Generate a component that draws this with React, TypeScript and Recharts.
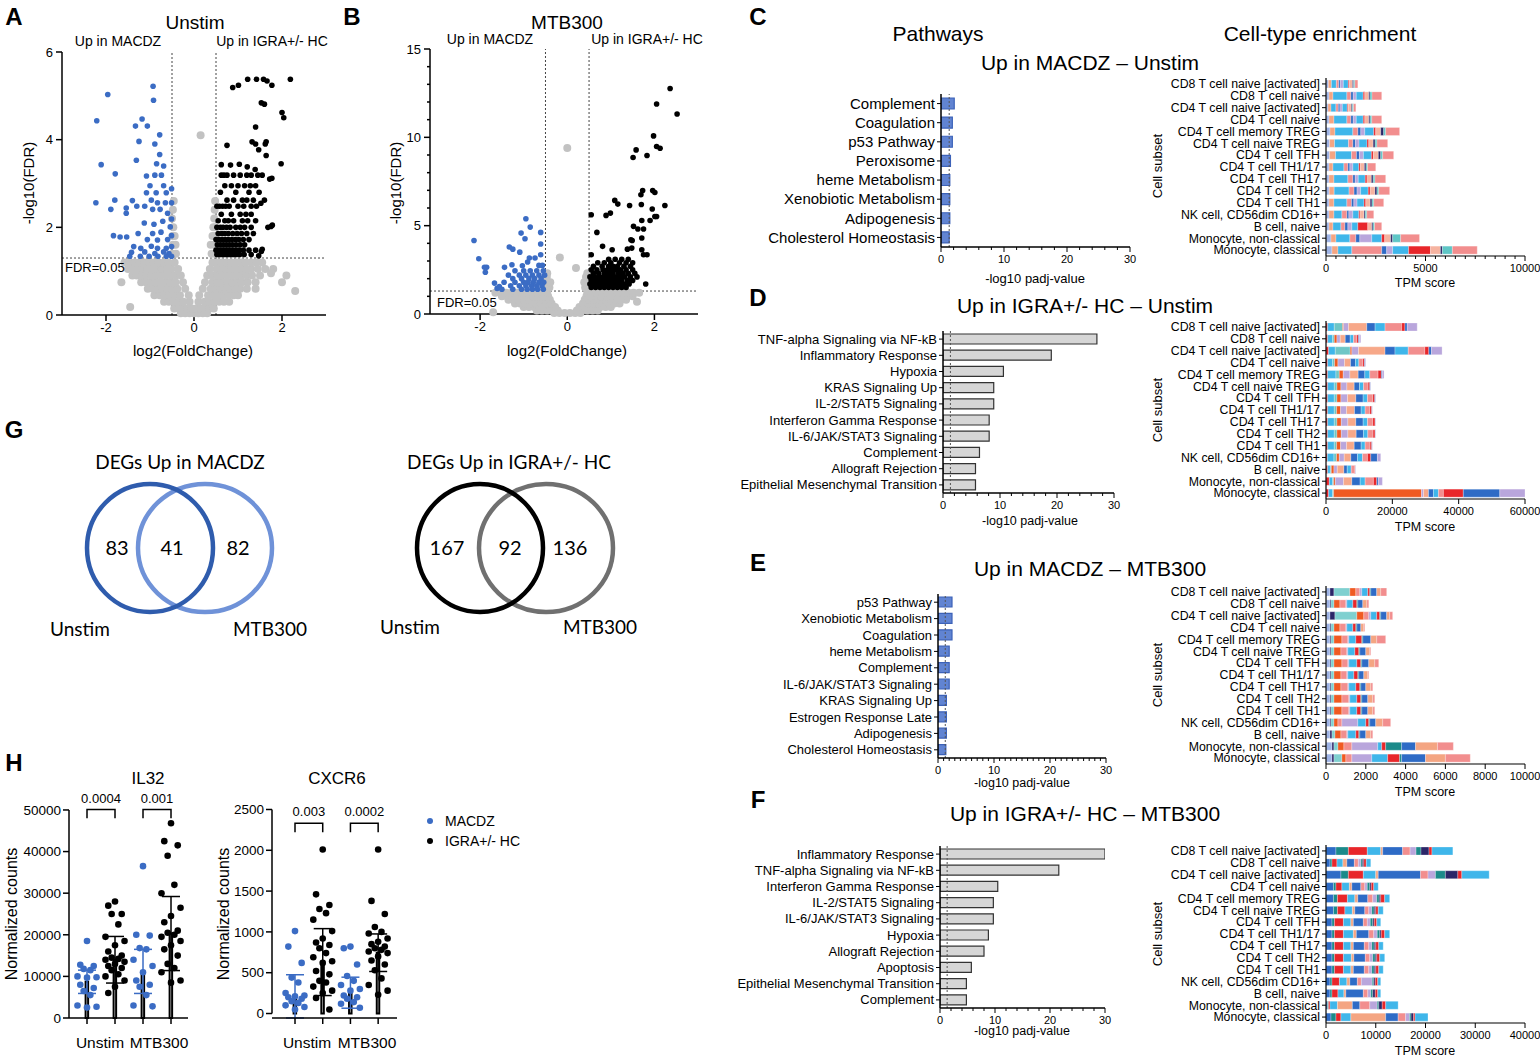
import React from "react";
import {
  ScatterChart,
  Scatter,
  XAxis,
  YAxis,
  ReferenceLine,
  BarChart,
  Bar,
  ComposedChart,
  Line,
  ErrorBar,
} from "recharts";

const FONT = '"Liberation Sans", Arial, Helvetica, sans-serif';
const BLUE = "#3b6cc4";
const GRAY = "#c2c2c2";

// ---------- Volcano A (Unstim) ----------
const grayRowsA: [number, number[]][] = [
  [0.04, [-0.3, -0.2, -0.1, 0, 0.1, 0.2, 0.3]],
  [0.15, [-0.45, -0.35, -0.25, -0.15, -0.05, 0.05, 0.15, 0.25, 0.35, 0.45]],
  [0.3, [-0.68, -0.57, -0.46, -0.35, -0.24, -0.1, 0.1, 0.24, 0.35, 0.46, 0.57, 0.68, 0.8]],
  [0.45, [-0.9, -0.78, -0.66, -0.55, -0.44, -0.32, -0.12, 0.12, 0.32, 0.44, 0.55, 0.66, 0.78, 0.9, 1.0]],
  [0.6, [-1.05, -0.94, -0.83, -0.72, -0.61, -0.5, -0.38, -0.2, 0.2, 0.38, 0.5, 0.61, 0.72, 0.83, 0.94, 1.05, 1.2, 1.4]],
  [0.75, [-1.2, -1.09, -0.98, -0.87, -0.76, -0.65, -0.54, -0.42, -0.25, 0.25, 0.42, 0.54, 0.65, 0.76, 0.87, 0.98, 1.09, 1.22, 1.4, 2.0]],
  [0.9, [-1.4, -1.3, -1.19, -1.08, -0.97, -0.86, -0.75, -0.64, -0.53, -0.42, -0.3, 0.3, 0.42, 0.53, 0.64, 0.75, 0.86, 0.97, 1.08, 1.2, 1.32, 1.5, 2.1]],
  [1.05, [-1.5, -1.39, -1.28, -1.17, -1.06, -0.95, -0.84, -0.73, -0.62, -0.51, -0.36, 0.36, 0.51, 0.62, 0.73, 0.84, 0.95, 1.06, 1.17, 1.3, 1.45, 1.62, 1.8]],
  [1.2, [-1.58, -1.46, -1.35, -1.24, -1.13, -1.02, -0.91, -0.8, -0.69, -0.58, -0.44, 0.42, 0.52, 0.63, 0.74, 0.85, 0.96, 1.07, 1.18, 1.3, 1.42, 1.55]],
  [1.4, [-0.49, -0.41, 0.4, 0.48]],
  [1.6, [-0.48, -0.42, 0.38, 0.47]],
  [1.8, [-0.49, -0.44, 0.42, 0.48]],
  [2.0, [-0.47, 0.44, 0.49]],
  [2.2, [-0.5, 0.46]],
  [2.4, [-0.48, 0.47]],
  [2.6, [-0.46, 0.48]],
];
const grayExtraA: [number, number][] = [[0.15, 4.1], [-1.45, 0.18], [-1.65, 0.75], [2.3, 0.55], [1.75, 0.95]];
const blueA: [number, number][] = [
  [-1.96, 5.03], [-0.93, 5.22], [-0.92, 4.9], [-2.21, 4.43], [-1.18, 4.47], [-1.33, 4.31], [-1.06, 4.31],
  [-0.78, 4.11], [-1.25, 3.96], [-0.89, 3.9], [-0.78, 3.66], [-2.11, 3.43], [-1.31, 3.53], [-0.85, 3.45],
  [-0.69, 3.4], [-1.79, 3.22], [-1.08, 3.17], [-0.89, 3.19], [-0.74, 3.19], [-1.0, 2.95], [-0.69, 2.95],
  [-0.51, 2.88], [-1.08, 2.79], [-0.86, 2.79], [-0.63, 2.79], [-2.23, 2.56], [-1.8, 2.62], [-1.89, 2.41],
  [-1.54, 2.44], [-1.54, 2.32], [-1.4, 2.61], [-1.3, 2.48], [-1.12, 2.48], [-0.97, 2.62], [-0.83, 2.56],
  [-0.65, 2.56], [-0.51, 2.56], [-0.94, 2.41], [-0.77, 2.41], [-0.6, 2.32], [-0.51, 2.19], [-1.13, 2.1],
  [-0.91, 2.07], [-0.71, 2.14], [-0.54, 2.01], [-1.83, 1.81], [-1.68, 1.78], [-1.53, 1.78], [-1.27, 1.86],
  [-0.94, 1.86], [-0.75, 1.89], [-1.06, 1.72], [-0.83, 1.71], [-0.6, 1.72], [-0.51, 1.81], [-1.37, 1.56],
  [-1.21, 1.52], [-0.97, 1.57], [-0.83, 1.52], [-0.63, 1.52], [-0.51, 1.56], [-1.42, 1.43], [-1.12, 1.44],
  [-0.89, 1.4], [-0.69, 1.44], [-0.57, 1.4], [-1.46, 1.34], [-1.22, 1.34], [-1.02, 1.34], [-0.82, 1.34],
  [-0.63, 1.34], [-0.51, 1.34],
];
const blackA: [number, number][] = [
  [1.42, 5.38], [1.58, 5.38], [1.66, 5.34], [1.22, 5.38], [2.19, 5.38], [0.88, 5.19], [1.01, 5.24], [1.77, 5.24],
  [1.53, 4.84], [1.6, 4.81], [2.0, 4.62], [2.04, 4.5], [1.4, 4.29], [0.75, 3.87], [1.32, 3.95], [1.4, 3.9],
  [1.62, 3.9], [1.64, 3.95], [1.47, 3.77], [1.64, 3.64], [0.62, 3.43], [0.83, 3.42], [1.03, 3.44], [1.98, 3.45],
  [1.21, 3.38], [1.39, 3.32], [1.77, 3.12], [1.72, 3.1], [1.52, 2.55], [1.78, 2.05], [1.75, 2.02], [1.55, 1.5],
  [1.53, 1.45], [1.47, 1.35],
];
const blackRowsA: [number, number[]][] = [
  [3.19, [0.62, 0.68, 0.75, 0.9, 1.05, 1.2, 1.3, 1.45, 1.55]],
  [2.95, [0.7, 0.85, 1.0, 1.15, 1.28, 1.4]],
  [2.8, [0.6, 0.95, 1.25, 1.48]],
  [2.62, [0.75, 0.9, 1.1, 1.2, 1.35, 1.6]],
  [2.48, [0.52, 0.58, 0.65, 0.72, 0.8, 1.0, 1.13, 1.3, 1.42]],
  [2.3, [0.62, 0.85, 1.05, 1.18, 1.3]],
  [2.15, [0.55, 0.7, 0.78, 0.9, 1.1, 1.22, 1.4]],
  [2.0, [0.52, 0.6, 0.66, 0.74, 0.82, 0.95, 1.05, 1.15, 1.3, 1.68]],
  [1.86, [0.55, 0.63, 0.7, 0.78, 0.88, 0.98, 1.08, 1.2, 1.35]],
  [1.72, [0.5, 0.57, 0.64, 0.71, 0.78, 0.86, 0.94, 1.02, 1.12, 1.25]],
  [1.6, [0.53, 0.6, 0.67, 0.74, 0.81, 0.88, 0.96, 1.05, 1.15]],
  [1.48, [0.5, 0.56, 0.62, 0.68, 0.74, 0.8, 0.87, 0.94, 1.02, 1.12, 1.25, 1.4]],
  [1.38, [0.52, 0.58, 0.64, 0.7, 0.76, 0.82, 0.89, 0.96, 1.04, 1.14, 1.3]],
];

// ---------- Volcano B (MTB300) ----------
const grayRowsB: [number, number[]][] = [
  [0.05, [-0.3, -0.18, -0.06, 0.06, 0.18, 0.3]],
  [0.2, [-0.7, -0.58, -0.46, -0.34, -0.22, 0.22, 0.34, 0.46, 0.58, 0.7]],
  [0.4, [-1.0, -0.88, -0.76, -0.64, -0.52, -0.4, -0.28, 0.28, 0.4, 0.52, 0.64, 0.76, 0.88, 1.0]],
  [0.6, [-1.2, -1.08, -0.96, -0.84, -0.72, -0.6, -0.48, -0.36, 0.36, 0.48, 0.6, 0.72, 0.84, 0.96, 1.08, 1.2]],
  [0.8, [-1.35, -1.23, -1.11, -0.99, -0.87, -0.75, -0.63, -0.51, -0.4, 0.4, 0.51, 0.63, 0.75, 0.87, 0.99, 1.11, 1.23, 1.35]],
  [1.0, [-1.5, -1.38, -1.26, -1.14, -1.02, -0.9, -0.78, -0.66, -0.54, -0.44, 0.44, 0.54, 0.66, 0.78, 0.9, 1.02, 1.14, 1.26, 1.38, 1.5]],
  [1.2, [-1.65, -1.52, -1.4, -1.28, -1.16, -1.04, -0.92, -0.8, -0.68, -0.56, -0.46, 0.46, 0.56, 0.68, 0.8, 0.92, 1.04, 1.16, 1.28, 1.4, 1.52, 1.65]],
  [1.5, [-0.49, -0.41, 0.41, 0.49]],
  [1.8, [-0.48, -0.39, 0.39, 0.48]],
  [2.1, [-0.47, 0.43]],
  [2.3, [-0.46, 0.46]],
];
const grayExtraB: [number, number][] = [[0, 9.4], [-0.17, 3.2], [0.2, 2.6], [1.6, 0.7], [-1.7, 0.1]];
const blueB: [number, number][] = [
  [-2.14, 4.16], [-2.03, 3.13], [-1.9, 2.64], [-1.85, 2.64], [-1.88, 2.36], [-1.67, 1.75], [-1.61, 1.45],
  [-1.56, 1.56], [-0.95, 5.39], [-0.85, 4.92], [-1.06, 4.58], [-0.61, 4.62], [-0.97, 4.26], [-0.61, 3.96],
  [-1.33, 3.79], [-1.25, 3.67], [-1.09, 3.5], [-0.87, 3.17], [-0.74, 3.17], [-0.61, 3.35], [-1.44, 2.64],
  [-1.27, 2.79], [-1.03, 2.73], [-0.91, 2.94], [-0.65, 2.75], [-0.57, 2.75],
];
const blueRowsB: [number, number[]][] = [
  [2.45, [-1.2, -1.0, -0.85, -0.7, -0.55]],
  [2.2, [-1.35, -1.1, -0.95, -0.8, -0.65, -0.52]],
  [2.0, [-1.25, -1.05, -0.88, -0.75, -0.6]],
  [1.8, [-1.45, -1.2, -1.0, -0.9, -0.78, -0.65, -0.54]],
  [1.6, [-1.3, -1.1, -0.95, -0.82, -0.7, -0.58]],
  [1.4, [-1.5, -1.25, -1.05, -0.92, -0.8, -0.68, -0.55]],
];
const blackB: [number, number][] = [
  [2.36, 12.76], [2.05, 11.89], [2.52, 11.32], [1.98, 10.08], [2.13, 9.38], [2.05, 9.48], [1.58, 9.29],
  [1.51, 8.86], [1.83, 8.97], [1.96, 6.99], [1.73, 6.99], [2.01, 6.88], [1.69, 6.75], [1.09, 6.43],
  [1.16, 6.22], [1.43, 6.14], [1.7, 6.2], [2.24, 6.14], [1.95, 5.94], [0.55, 5.62], [0.89, 5.58],
  [0.99, 5.71], [2.01, 5.52], [2.05, 5.52], [1.9, 5.29], [1.71, 5.29], [1.52, 4.96], [1.62, 4.81],
  [1.75, 4.81], [0.68, 4.62], [1.49, 4.16], [1.46, 4.2], [1.71, 4.3], [0.81, 3.83], [1.38, 3.67],
  [1.03, 3.64], [1.71, 3.64], [1.48, 3.73], [1.75, 3.35], [1.83, 3.35], [0.55, 3.35], [1.8, 1.7],
];
const blackRowsB: [number, number[]][] = [
  [3.1, [0.95, 1.1, 1.25, 1.4]],
  [2.9, [0.7, 0.85, 1.0, 1.2, 1.35, 1.5]],
  [2.7, [0.6, 0.8, 0.95, 1.05, 1.15, 1.3, 1.45]],
  [2.5, [0.55, 0.68, 0.82, 0.92, 1.02, 1.12, 1.22, 1.35, 1.5]],
  [2.3, [0.6, 0.72, 0.85, 0.95, 1.05, 1.18, 1.28, 1.4, 1.55]],
  [2.1, [0.52, 0.62, 0.72, 0.82, 0.92, 1.02, 1.12, 1.22, 1.32, 1.45, 1.6]],
  [1.9, [0.55, 0.65, 0.75, 0.85, 0.95, 1.05, 1.15, 1.25, 1.38, 1.5]],
  [1.7, [0.52, 0.62, 0.72, 0.82, 0.92, 1.02, 1.12, 1.22, 1.32, 1.42]],
  [1.5, [0.55, 0.65, 0.75, 0.85, 0.95, 1.05, 1.15, 1.25, 1.35]],
];
const volcXTicks = [-2, 0, 2];
const volcAYTicks = [0, 2, 4, 6];
const volcBYTicks = [0, 1, 2, 3, 4, 5, 6, 7, 8, 9, 10, 11, 12, 13, 14, 15];

// ---------- Pathways ----------
const pathC = ["Complement", "Coagulation", "p53 Pathway", "Peroxisome", "heme Metabolism", "Xenobiotic Metabolism", "Adipogenesis", "Cholesterol Homeostasis"];
const valsC = [2.1, 1.8, 1.8, 1.5, 1.4, 1.4, 1.4, 1.3];
const pathD = ["TNF-alpha Signaling via NF-kB", "Inflammatory Response", "Hypoxia", "KRAS Signaling Up", "IL-2/STAT5 Signaling", "Interferon Gamma Response", "IL-6/JAK/STAT3 Signaling", "Complement", "Allograft Rejection", "Epithelial Mesenchymal Transition"];
const valsD = [27, 19, 10.6, 8.9, 8.9, 8.1, 8.1, 6.4, 5.7, 5.7];
const pathE = ["p53 Pathway", "Xenobiotic Metabolism", "Coagulation", "heme Metabolism", "Complement", "IL-6/JAK/STAT3 Signaling", "KRAS Signaling Up", "Estrogen Response Late", "Adipogenesis", "Cholesterol Homeostasis"];
const valsE = [2.5, 2.5, 2.5, 2.0, 2.0, 2.0, 1.5, 1.5, 1.5, 1.4];
const pathF = ["Inflammatory Response", "TNF-alpha Signaling via NF-kB", "Interferon Gamma Response", "IL-2/STAT5 Signaling", "IL-6/JAK/STAT3 Signaling", "Hypoxia", "Allograft Rejection", "Apoptosis", "Epithelial Mesenchymal Transition", "Complement"];
const valsF = [30, 21.6, 10.5, 9.7, 9.7, 8.8, 8.0, 5.7, 4.8, 4.8];
const pathTicks2 = [0, 2, 4, 6, 8, 10, 12, 14, 16, 18, 20, 22, 24, 26, 28, 30];
const pathTicks1 = [0, 1, 2, 3, 4, 5, 6, 7, 8, 9, 10, 11, 12, 13, 14, 15, 16, 17, 18, 19, 20, 21, 22, 23, 24, 25, 26, 27, 28, 29, 30];

// ---------- Cell-type enrichment ----------
const cellTypes = [
  "CD8 T cell naive [activated]", "CD8 T cell naive", "CD4 T cell naive [activated]", "CD4 T cell naive",
  "CD4 T cell memory TREG", "CD4 T cell naive TREG", "CD4 T cell TFH", "CD4 T cell TH1/17", "CD4 T cell TH17",
  "CD4 T cell TH2", "CD4 T cell TH1", "NK cell, CD56dim CD16+", "B cell, naive", "Monocyte, non-classical",
  "Monocyte, classical",
];
const colorsC = ["#9fb4e6", "#f4a582", "#3fb6ea", "#f28e8e", "#2e6bc6", "#b9a6dc", "#3fb6ea", "#e8262a", "#f6b3a0", "#2b2668", "#5fc6c6", "#f28e8e"];
const cellC = [
  [120, 150, 250, 120, 80, 150, 250, 60, 150, 60, 60, 150],
  [150, 200, 700, 200, 120, 150, 350, 80, 200, 60, 100, 490],
  [100, 150, 250, 120, 80, 120, 250, 50, 150, 50, 60, 120],
  [150, 250, 650, 200, 120, 150, 350, 80, 200, 60, 90, 500],
  [200, 250, 900, 250, 150, 200, 450, 100, 250, 150, 100, 700],
  [180, 250, 700, 220, 130, 180, 400, 90, 220, 100, 90, 540],
  [180, 300, 800, 250, 150, 200, 400, 100, 250, 120, 100, 550],
  [150, 200, 550, 200, 100, 150, 300, 80, 200, 80, 80, 410],
  [150, 250, 700, 250, 120, 150, 350, 90, 220, 90, 90, 540],
  [160, 250, 750, 250, 150, 180, 380, 100, 240, 100, 90, 550],
  [150, 250, 650, 230, 120, 160, 350, 90, 220, 90, 90, 500],
  [150, 250, 400, 250, 100, 200, 300, 60, 200, 60, 80, 350],
  [150, 200, 400, 200, 150, 200, 300, 500, 200, 60, 80, 360],
  [250, 250, 700, 300, 200, 600, 500, 150, 300, 100, 400, 950],
  [300, 300, 700, 1500, 250, 300, 800, 1100, 500, 100, 500, 1250],
];
const colorsD = ["#e8262a", "#3fb6ea", "#6ec6c6", "#f05a22", "#b9a6dc", "#f7a889", "#2e6bc6", "#3fb6ea", "#f28e8e", "#e8262a", "#2e6bc6", "#b9a6dc"];
const cellD = [
  [500, 2000, 2500, 300, 1500, 5500, 2500, 3000, 5000, 1000, 700, 3000],
  [500, 1500, 500, 800, 1000, 1500, 1500, 1000, 1000, 500, 300, 400],
  [800, 2000, 4500, 500, 2000, 8000, 3000, 4000, 5000, 1200, 800, 3200],
  [500, 1500, 600, 1000, 2000, 1800, 1500, 1000, 1200, 500, 200, 200],
  [500, 2500, 1000, 1200, 2000, 2500, 2000, 1500, 2500, 1000, 300, 500],
  [500, 2000, 800, 1200, 1800, 2200, 1600, 1200, 1400, 500, 200, 100],
  [500, 2000, 800, 1200, 2000, 2500, 2200, 1300, 1600, 600, 200, 100],
  [500, 2000, 700, 1200, 1800, 2400, 2000, 1200, 1400, 600, 100, 100],
  [500, 2000, 800, 1300, 2000, 2400, 2200, 1300, 1600, 700, 100, 100],
  [500, 2000, 800, 1300, 2000, 2500, 2200, 1300, 1600, 600, 100, 100],
  [500, 2000, 700, 1200, 1800, 2300, 2100, 1200, 1500, 500, 100, 100],
  [400, 2000, 800, 800, 1500, 2000, 2000, 1500, 1500, 1000, 2000, 1000],
  [500, 800, 300, 800, 1000, 2000, 1000, 1200, 1000, 200, 100, 100],
  [1000, 1000, 300, 500, 2500, 2500, 2500, 1500, 2500, 1000, 500, 1200],
  [800, 1200, 300, 26500, 600, 1500, 1500, 1500, 1500, 6000, 11000, 7600],
];
const colorsE = ["#9fb4e6", "#2b2668", "#7fd0d0", "#f05a22", "#f28e8e", "#b9a6dc", "#3fb6ea", "#e8262a", "#1b8a8a", "#2e6bc6", "#f4a582", "#f28e8e"];
const cellE = [
  [200, 200, 800, 300, 200, 100, 300, 100, 50, 300, 200, 300],
  [200, 50, 150, 300, 300, 50, 300, 200, 50, 250, 200, 100],
  [200, 250, 1100, 350, 250, 100, 300, 150, 50, 300, 150, 150],
  [200, 50, 150, 300, 300, 50, 300, 150, 50, 200, 150, 50],
  [200, 50, 150, 400, 300, 50, 350, 300, 50, 400, 300, 450],
  [200, 50, 150, 350, 300, 50, 350, 200, 50, 300, 200, 50],
  [200, 50, 150, 400, 300, 50, 400, 200, 50, 350, 300, 200],
  [200, 50, 150, 350, 300, 50, 300, 200, 50, 250, 200, 50],
  [200, 50, 150, 350, 350, 50, 350, 200, 50, 250, 250, 100],
  [200, 50, 150, 400, 350, 50, 350, 200, 50, 300, 250, 100],
  [200, 50, 150, 400, 350, 50, 350, 200, 50, 300, 250, 100],
  [200, 50, 150, 200, 200, 800, 400, 150, 50, 300, 350, 400],
  [200, 100, 150, 300, 300, 50, 400, 150, 50, 300, 250, 100],
  [300, 100, 200, 300, 400, 1300, 200, 200, 800, 700, 1100, 800],
  [300, 100, 400, 200, 300, 1000, 800, 600, 100, 1200, 1000, 1250],
];
const colorsF = ["#2e6bc6", "#1b8a8a", "#e8262a", "#3fb6ea", "#f4a582", "#2e6bc6", "#f28e8e", "#b9a6dc", "#1b8a8a", "#2b2668", "#e8262a", "#3fb6ea"];
const cellF = [
  [2000, 2500, 3800, 2700, 400, 4000, 1500, 1200, 1000, 1600, 600, 4200],
  [800, 400, 1000, 1200, 800, 1500, 800, 500, 300, 300, 500, 900],
  [3000, 1500, 3000, 2500, 500, 8500, 1500, 1500, 2000, 2500, 800, 5500],
  [1500, 500, 1200, 1500, 500, 1800, 800, 500, 500, 300, 500, 900],
  [1500, 800, 2000, 1500, 600, 2000, 1000, 800, 500, 300, 800, 1000],
  [1500, 800, 1500, 1500, 500, 2000, 800, 600, 500, 300, 500, 1000],
  [1200, 500, 1800, 1500, 500, 2000, 800, 600, 500, 300, 500, 800],
  [1200, 500, 1800, 2000, 600, 2500, 1000, 700, 500, 300, 700, 1000],
  [1200, 500, 1800, 1500, 500, 2200, 900, 600, 500, 300, 600, 900],
  [1200, 500, 1800, 1600, 500, 2300, 900, 600, 500, 300, 600, 1000],
  [1200, 500, 1800, 1500, 500, 2200, 900, 600, 500, 300, 600, 900],
  [800, 400, 1500, 1500, 600, 1500, 800, 2200, 300, 300, 500, 600],
  [800, 400, 1200, 1200, 400, 3500, 900, 600, 400, 500, 500, 600],
  [300, 200, 300, 1500, 3000, 1500, 2000, 1500, 300, 700, 700, 2500],
  [1000, 1000, 1000, 2000, 7000, 2500, 1500, 800, 300, 500, 300, 2600],
];
const cellTicksC = [0, 500, 1000, 1500, 2000, 2500, 3000, 3500, 4000, 4500, 5000, 5500, 6000, 6500, 7000, 7500, 8000, 8500, 9000, 9500, 10000];
const cellTicksD = [0, 20000, 40000, 60000];
const cellTicksE = [0, 2000, 4000, 6000, 8000, 10000];
const cellTicksF = [0, 10000, 20000, 30000, 40000];

// ---------- Venn ----------
const vennMacdz = [83, 41, 82];
const vennIgra = [167, 92, 136];

// ---------- H: normalized counts ----------
const hGroups = ["Unstim", "MTB300"];
const il32Means = [8700, 14000, 11200, 20300];
const il32Sd = [2800, 5600, 5300, 8900];
const il32Pts = [
  [18500, 12800, 12500, 11800, 11500, 10000, 9800, 9700, 8000, 7200, 6500, 5500, 3000, 2700, 2500],
  [28000, 27000, 25000, 25000, 22500, 19500, 18500, 17500, 16000, 15000, 14500, 14200, 14000, 13500, 13000, 12500, 12000, 11500, 10500, 10000, 9000, 7500, 6000],
  [36500, 20000, 19800, 16800, 16500, 14000, 12500, 11000, 9000, 8000, 7500, 5500, 3000, 2800],
  [46800, 42500, 41500, 39000, 32000, 30000, 26500, 24500, 23000, 21000, 20500, 20000, 19500, 18500, 17500, 16500, 15000, 13000, 12000, 11000, 9000, 8500],
];
const il32P = ["0.0004", "0.001"];
const il32Ticks = [0, 10000, 20000, 30000, 40000, 50000];
const cxcr6Means = [210, 630, 255, 745];
const cxcr6Sd = [265, 410, 190, 230];
const cxcr6Pts = [
  [1010, 820, 620, 440, 380, 250, 220, 210, 200, 180, 150, 130, 100, 80, 50],
  [2010, 1460, 1330, 1280, 1230, 1150, 1010, 920, 870, 840, 800, 740, 690, 640, 620, 520, 480, 400, 380, 330, 280, 250, 190, 50],
  [820, 800, 600, 460, 400, 350, 300, 280, 220, 200, 180, 140, 120, 70],
  [2010, 1380, 1220, 1060, 1000, 980, 920, 880, 850, 820, 800, 780, 760, 740, 700, 650, 600, 530, 430, 350, 280, 230],
];
const cxcr6P = ["0.003", "0.0002"];
const cxcr6Ticks = [0, 500, 1000, 1500, 2000, 2500];

// ---------- helpers ----------
const pairs = (a: [number, number][]) => a.map(([x, y]) => ({ x, y }));
const rows = (r: [number, number[]][]) => r.flatMap(([y, xs]) => xs.map((x) => ({ x, y })));
const isMul = (v: number, m: number) => Math.abs(v / m - Math.round(v / m)) < 1e-6;

const xTick = (major: number, fs: number) => (p: any) => {
  const v = p.payload.value;
  const mj = isMul(v, major);
  return (
    <g>
      <line x1={p.x} x2={p.x} y1={p.y} y2={p.y + (mj ? 5 : 3)} stroke="#000" strokeWidth={1} />
      {mj && (
        <text x={p.x} y={p.y + 7 + fs * 0.85} textAnchor="middle" fontSize={fs} fill="#000">
          {v}
        </text>
      )}
    </g>
  );
};
const yTick = (major: number, fs: number) => (p: any) => {
  const v = p.payload.value;
  const mj = isMul(v, major);
  return (
    <g>
      <line x1={p.x - (mj ? 6 : 3)} x2={p.x} y1={p.y} y2={p.y} stroke="#000" strokeWidth={1.5} />
      {mj && (
        <text x={p.x - 9} y={p.y} dy="0.35em" textAnchor="end" fontSize={fs} fill="#000">
          {v}
        </text>
      )}
    </g>
  );
};
// category labels without wrapping
const catTick = (fs: number) => (p: any) => (
  <text x={p.x} y={p.y} dy="0.35em" textAnchor="end" fontSize={fs} fill="#000">
    {p.payload.value}
  </text>
);
const dot = (c: string, r: number) => (p: any) => <circle cx={p.cx} cy={p.cy} r={r} fill={c} />;

function Txt({ x, y, s = 14, a = "middle", w = 400, r = 0, f, children }: any) {
  const tx = a === "middle" ? "-50%" : a === "end" ? "-100%" : "0";
  return (
    <div
      style={{
        position: "absolute",
        left: x,
        top: y,
        fontSize: s,
        fontWeight: w,
        fontFamily: f || FONT,
        whiteSpace: "nowrap",
        lineHeight: 1,
        transform: `translate(${tx},-50%) rotate(${r}deg)`,
      }}
    >
      {children}
    </div>
  );
}

function Volcano({ left, top, width, plotH, yAxisW, mTop, mRight, xDomain, yMax, yTicks, yMajor, gray, blue, black }: any) {
  return (
    <div style={{ position: "absolute", left, top }}>
      <ScatterChart width={width} height={mTop + plotH + 30} margin={{ top: mTop, right: mRight, bottom: 0, left: 0 }}>
        <XAxis
          type="number"
          dataKey="x"
          domain={xDomain}
          ticks={volcXTicks}
          interval={0}
          height={30}
          tick={{ fill: "#000", fontSize: 13 }}
          tickSize={6}
          tickLine={{ stroke: "#000", strokeWidth: 1.5 }}
          axisLine={{ stroke: "#000", strokeWidth: 1.5 }}
        />
        <YAxis
          type="number"
          dataKey="y"
          domain={[0, yMax]}
          ticks={yTicks}
          interval={0}
          width={yAxisW}
          tick={yTick(yMajor, 13)}
          tickLine={false}
          tickSize={0}
          tickMargin={0}
          axisLine={{ stroke: "#000", strokeWidth: 1.5 }}
        />
        <Scatter data={gray} shape={dot(GRAY, 4)} isAnimationActive={false} />
        <Scatter data={blue} shape={dot(BLUE, 2.8)} isAnimationActive={false} />
        <Scatter data={black} shape={dot("#000", 2.8)} isAnimationActive={false} />
        <ReferenceLine x={-0.5} stroke="#444" strokeDasharray="2 2" />
        <ReferenceLine x={0.5} stroke="#444" strokeDasharray="2 2" />
        <ReferenceLine y={1.3} stroke="#444" strokeDasharray="2 2" />
      </ScatterChart>
    </div>
  );
}

function PathChart({ left, top, cats, vals, yAxisW, plotW, plotH, fs, fill, stroke, barSize, ticks, major }: any) {
  const data = cats.map((name: string, i: number) => ({ name, v: vals[i] }));
  return (
    <div style={{ position: "absolute", left, top }}>
      <BarChart layout="vertical" width={yAxisW + plotW + 14} height={6 + plotH + 26} data={data} margin={{ top: 6, right: 14, bottom: 0, left: 0 }}>
        <XAxis
          type="number"
          domain={[0, 30]}
          allowDataOverflow
          ticks={ticks}
          interval={0}
          height={26}
          tick={xTick(major, 11)}
          tickLine={false}
          tickSize={0}
          tickMargin={0}
          axisLine={{ stroke: "#000", strokeWidth: 1.5 }}
        />
        <YAxis
          type="category"
          dataKey="name"
          width={yAxisW}
          interval={0}
          tick={catTick(fs)}
          tickSize={4}
          tickLine={{ stroke: "#000" }}
          axisLine={{ stroke: "#000", strokeWidth: 1.5 }}
        />
        <Bar dataKey="v" fill={fill} stroke={stroke} strokeWidth={1.2} barSize={barSize} isAnimationActive={false} />
        <ReferenceLine x={1.3} stroke="#555" strokeDasharray="2 2" />
      </BarChart>
    </div>
  );
}

function CellChart({ left, top, values, colors, xMax, ticks, major }: any) {
  const data = cellTypes.map((name, i) => {
    const o: any = { name };
    values[i].forEach((v: number, k: number) => (o["s" + k] = v));
    return o;
  });
  const plotH = 178;
  return (
    <div style={{ position: "absolute", left, top }}>
      <BarChart layout="vertical" width={380} height={6 + plotH + 22} data={data} margin={{ top: 6, right: 15, bottom: 0, left: 0 }} barSize={8}>
        <XAxis
          type="number"
          domain={[0, xMax]}
          ticks={ticks}
          interval={0}
          height={22}
          tick={xTick(major, 11)}
          tickLine={false}
          tickSize={0}
          tickMargin={0}
          axisLine={{ stroke: "#000", strokeWidth: 1.2 }}
        />
        <YAxis
          type="category"
          dataKey="name"
          width={166}
          interval={0}
          tick={catTick(12.3)}
          tickSize={4}
          tickLine={{ stroke: "#000" }}
          axisLine={{ stroke: "#000", strokeWidth: 1.2 }}
        />
        {colors.map((c: string, k: number) => (
          <Bar key={k} dataKey={"s" + k} stackId="a" fill={c} stroke="rgba(255,255,255,0.45)" strokeWidth={0.6} isAnimationActive={false} />
        ))}
      </BarChart>
    </div>
  );
}

const JIT = [0, -0.24, 0.24, -0.12, 0.12, -0.34, 0.34];

function DotBar({ left, top, yAxisW, plotW, xDomain, yTop, yMax, yTicks, means, sds, pts, pvals, bLo, bHi }: any) {
  const bars = means.map((m: number, i: number) => ({ x: i + 1, mean: m }));
  const dots = (gs: number[]) =>
    gs.flatMap((g) => pts[g].map((v: number, j: number) => ({ x: g + 1 + JIT[j % JIT.length], y: v })));
  const errs = (gs: number[]) => gs.map((g) => ({ x: g + 1, y: means[g], e: sds[g] }));
  const brackets = [
    { a: 1, b: 2, p: pvals[0] },
    { a: 3, b: 4, p: pvals[1] },
  ];
  return (
    <div style={{ position: "absolute", left, top }}>
      <ComposedChart width={yAxisW + plotW + 6} height={10 + 233 + 14} data={bars} margin={{ top: 10, right: 6, bottom: 0, left: 0 }}>
        <XAxis
          type="number"
          dataKey="x"
          domain={xDomain}
          ticks={[1, 2, 3, 4]}
          interval={0}
          tickFormatter={() => ""}
          height={14}
          tickSize={6}
          tickLine={{ stroke: "#000", strokeWidth: 1.5 }}
          axisLine={{ stroke: "#000", strokeWidth: 1.5 }}
        />
        <YAxis
          type="number"
          domain={[0, yTop]}
          ticks={yTicks}
          interval={0}
          width={yAxisW}
          axisLine={false}
          tickSize={6}
          tickLine={{ stroke: "#000", strokeWidth: 1.5 }}
          tick={{ fill: "#000", fontSize: 13.5 }}
        />
        <ReferenceLine segment={[{ x: xDomain[0], y: 0 }, { x: xDomain[0], y: yMax }]} stroke="#000" strokeWidth={1.5} />
        <Bar dataKey="mean" barSize={19} fill="#fff" stroke="#000" strokeWidth={2} isAnimationActive={false} />
        <Scatter data={dots([0, 2])} dataKey="y" shape={dot(BLUE, 3.3)} isAnimationActive={false} />
        <Scatter data={dots([1, 3])} dataKey="y" shape={dot("#000", 3.3)} isAnimationActive={false} />
        <Scatter data={errs([0, 2])} dataKey="y" shape={() => <g />} isAnimationActive={false}>
          <ErrorBar dataKey="e" direction="y" width={9} stroke={BLUE} strokeWidth={1.5} />
        </Scatter>
        <Scatter data={errs([1, 3])} dataKey="y" shape={() => <g />} isAnimationActive={false}>
          <ErrorBar dataKey="e" direction="y" width={9} stroke="#000" strokeWidth={1.5} />
        </Scatter>
        {brackets.map((b, i) => (
          <Line
            key={i}
            data={[
              { x: b.a, y: bLo },
              { x: b.a, y: bHi },
              { x: b.b, y: bHi },
              { x: b.b, y: bLo },
            ]}
            dataKey="y"
            stroke="#000"
            strokeWidth={1.5}
            dot={false}
            isAnimationActive={false}
          />
        ))}
        <Scatter
          data={brackets.map((b) => ({ x: (b.a + b.b) / 2, y: bHi, label: b.p }))}
          dataKey="y"
          isAnimationActive={false}
          shape={(p: any) => (
            <text x={p.cx} y={p.cy - 7} textAnchor="middle" fontSize={13} fill="#000">
              {p.payload.label}
            </text>
          )}
        />
      </ComposedChart>
    </div>
  );
}

// Venn: ring centres / label spots are page pixels
function Venn({ counts, c1, c2, cx1, cx2, tx }: any) {
  return (
    <svg style={{ position: "absolute", left: 0, top: 470 }} width={700} height={160}>
      <ellipse cx={cx2} cy={78} rx={67} ry={64} fill="none" stroke={c2} strokeWidth={4.5} />
      <ellipse cx={cx1} cy={78} rx={63} ry={64} fill="none" stroke={c1} strokeWidth={4.5} />
      {tx.map((x: number, i: number) => (
        <text key={i} x={x} y={78} dy="0.35em" textAnchor="middle" fontSize={20} fontFamily="Lato, sans-serif" fill="#000">
          {counts[i]}
        </text>
      ))}
    </svg>
  );
}

export default function App() {
  const L = (s: string, x: number, y: number) => (
    <Txt x={x} y={y} s={24} w={700}>
      {s}
    </Txt>
  );
  return (
    <div style={{ position: "relative", width: 1540, height: 1058, fontFamily: FONT, color: "#000", background: "#fff", overflow: "hidden" }}>
      <style>{"body{margin:0}"}</style>

      {/* A */}
      {L("A", 14, 17)}
      <Txt x={195} y={22} s={19}>Unstim</Txt>
      <Txt x={118} y={41} s={14}>Up in MACDZ</Txt>
      <Txt x={272} y={41} s={14}>Up in IGRA+/- HC</Txt>
      <Volcano
        left={0}
        top={40}
        width={340}
        plotH={263}
        yAxisW={62}
        mTop={12}
        mRight={14}
        xDomain={[-3, 3]}
        yMax={6}
        yTicks={volcAYTicks}
        yMajor={2}
        gray={[...rows(grayRowsA), ...pairs(grayExtraA)]}
        blue={pairs(blueA)}
        black={[...pairs(blackA), ...rows(blackRowsA)]}
      />
      <Txt x={65} y={267} s={13} a="start">FDR=0.05</Txt>
      <Txt x={193} y={350} s={15}>log2(FoldChange)</Txt>
      <Txt x={28} y={183} s={15} r={-90}>-log10(FDR)</Txt>

      {/* B */}
      {L("B", 352, 17)}
      <Txt x={567} y={22} s={19}>MTB300</Txt>
      <Txt x={490} y={39} s={14}>Up in MACDZ</Txt>
      <Txt x={647} y={39} s={14}>Up in IGRA+/- HC</Txt>
      <Volcano
        left={360}
        top={40}
        width={352}
        plotH={265}
        yAxisW={70}
        mTop={9}
        mRight={14}
        xDomain={[-3.15, 3]}
        yMax={15}
        yTicks={volcBYTicks}
        yMajor={5}
        gray={[...rows(grayRowsB), ...pairs(grayExtraB)]}
        blue={[...pairs(blueB), ...rows(blueRowsB)]}
        black={[...pairs(blackB), ...rows(blackRowsB)]}
      />
      <Txt x={437} y={302} s={13} a="start">FDR=0.05</Txt>
      <Txt x={567} y={350} s={15}>log2(FoldChange)</Txt>
      <Txt x={395} y={183} s={15} r={-90}>-log10(FDR)</Txt>

      {/* C */}
      {L("C", 758, 17)}
      <Txt x={938} y={33} s={21}>Pathways</Txt>
      <Txt x={1320} y={33} s={21}>Cell-type enrichment</Txt>
      <Txt x={1090} y={62} s={21}>Up in MACDZ – Unstim</Txt>
      <PathChart left={700} top={88} cats={pathC} vals={valsC} yAxisW={241} plotW={189} plotH={153} fs={15} fill="#6184d2" stroke="#3c62b8" barSize={11} ticks={pathTicks2} major={10} />
      <Txt x={1035} y={278} s={13}>-log10 padj-value</Txt>
      <CellChart left={1160} top={72} values={cellC} colors={colorsC} xMax={10000} ticks={cellTicksC} major={5000} />
      <Txt x={1425} y={283} s={12.5}>TPM score</Txt>
      <Txt x={1157} y={166} s={13} r={-90}>Cell subset</Txt>

      {/* D */}
      {L("D", 758, 298)}
      <Txt x={1085} y={305} s={21}>Up in IGRA+/- HC – Unstim</Txt>
      <PathChart left={700} top={325} cats={pathD} vals={valsD} yAxisW={243} plotW={171} plotH={162} fs={13} fill="#d6d6d6" stroke="#333" barSize={10} ticks={pathTicks2} major={10} />
      <Txt x={1030} y={521} s={12.5}>-log10 padj-value</Txt>
      <CellChart left={1160} top={315} values={cellD} colors={colorsD} xMax={60000} ticks={cellTicksD} major={20000} />
      <Txt x={1425} y={527} s={12.5}>TPM score</Txt>
      <Txt x={1157} y={410} s={13} r={-90}>Cell subset</Txt>

      {/* E */}
      {L("E", 758, 563)}
      <Txt x={1090} y={568} s={21}>Up in MACDZ – MTB300</Txt>
      <PathChart left={700} top={588} cats={pathE} vals={valsE} yAxisW={238} plotW={168} plotH={164} fs={13} fill="#6184d2" stroke="#3c62b8" barSize={10} ticks={pathTicks1} major={10} />
      <Txt x={1022} y={783} s={12.5}>-log10 padj-value</Txt>
      <CellChart left={1160} top={580} values={cellE} colors={colorsE} xMax={10000} ticks={cellTicksE} major={2000} />
      <Txt x={1425} y={792} s={12.5}>TPM score</Txt>
      <Txt x={1157} y={675} s={13} r={-90}>Cell subset</Txt>

      {/* F */}
      {L("F", 758, 800)}
      <Txt x={1085} y={813} s={21}>Up in IGRA+/- HC – MTB300</Txt>
      <PathChart left={700} top={840} cats={pathF} vals={valsF} yAxisW={240} plotW={165} plotH={162} fs={13} fill="#d6d6d6" stroke="#333" barSize={10} ticks={pathTicks2} major={10} />
      <Txt x={1022} y={1031} s={12.5}>-log10 padj-value</Txt>
      <CellChart left={1160} top={839} values={cellF} colors={colorsF} xMax={40000} ticks={cellTicksF} major={10000} />
      <Txt x={1425} y={1051} s={12.5}>TPM score</Txt>
      <Txt x={1157} y={934} s={13} r={-90}>Cell subset</Txt>

      {/* G */}
      {L("G", 14, 430)}
      <Txt x={180} y={461} s={19} f="Lato, sans-serif">DEGs Up in MACDZ</Txt>
      <Txt x={509} y={461} s={19} f="Lato, sans-serif">DEGs Up in IGRA+/- HC</Txt>
      <Venn counts={vennMacdz} c1="#2f5cad" c2="#6f92d8" cx1={150} cx2={205} tx={[117, 172, 238]} />
      <Venn counts={vennIgra} c1="#000" c2="#707070" cx1={480} cx2={546} tx={[447, 510, 570]} />
      <Txt x={80} y={628} s={19} f="Lato, sans-serif">Unstim</Txt>
      <Txt x={270} y={628} s={19} f="Lato, sans-serif">MTB300</Txt>
      <Txt x={410} y={626} s={19} f="Lato, sans-serif">Unstim</Txt>
      <Txt x={600} y={626} s={19} f="Lato, sans-serif">MTB300</Txt>

      {/* H */}
      {L("H", 14, 763)}
      <Txt x={148} y={778} s={17}>IL32</Txt>
      <Txt x={337} y={778} s={17}>CXCR6</Txt>
      <DotBar left={0} top={775} yAxisW={69} plotW={119} xDomain={[0.357, 4.607]} yTop={56000} yMax={50000} yTicks={il32Ticks} means={il32Means} sds={il32Sd} pts={il32Pts} pvals={il32P} bLo={48000} bHi={50100} />
      <DotBar left={200} top={775} yAxisW={72} plotW={125} xDomain={[0.17, 4.68]} yTop={2800} yMax={2500} yTicks={cxcr6Ticks} means={cxcr6Means} sds={cxcr6Sd} pts={cxcr6Pts} pvals={cxcr6P} bLo={2220} bHi={2330} />
      <Txt x={12} y={914} s={16} r={-90}>Normalized counts</Txt>
      <Txt x={224} y={914} s={16} r={-90}>Normalized counts</Txt>
      <Txt x={100} y={1043} s={15.5}>{hGroups[0]}</Txt>
      <Txt x={159} y={1043} s={15.5}>{hGroups[1]}</Txt>
      <Txt x={307} y={1043} s={15.5}>{hGroups[0]}</Txt>
      <Txt x={367} y={1043} s={15.5}>{hGroups[1]}</Txt>
      <svg style={{ position: "absolute", left: 424, top: 814 }} width={12} height={34}>
        <circle cx={6} cy={7} r={3} fill={BLUE} />
        <circle cx={6} cy={27} r={3} fill="#000" />
      </svg>
      <Txt x={445} y={821} s={14} a="start">MACDZ</Txt>
      <Txt x={445} y={841} s={14} a="start">IGRA+/- HC</Txt>
    </div>
  );
}
